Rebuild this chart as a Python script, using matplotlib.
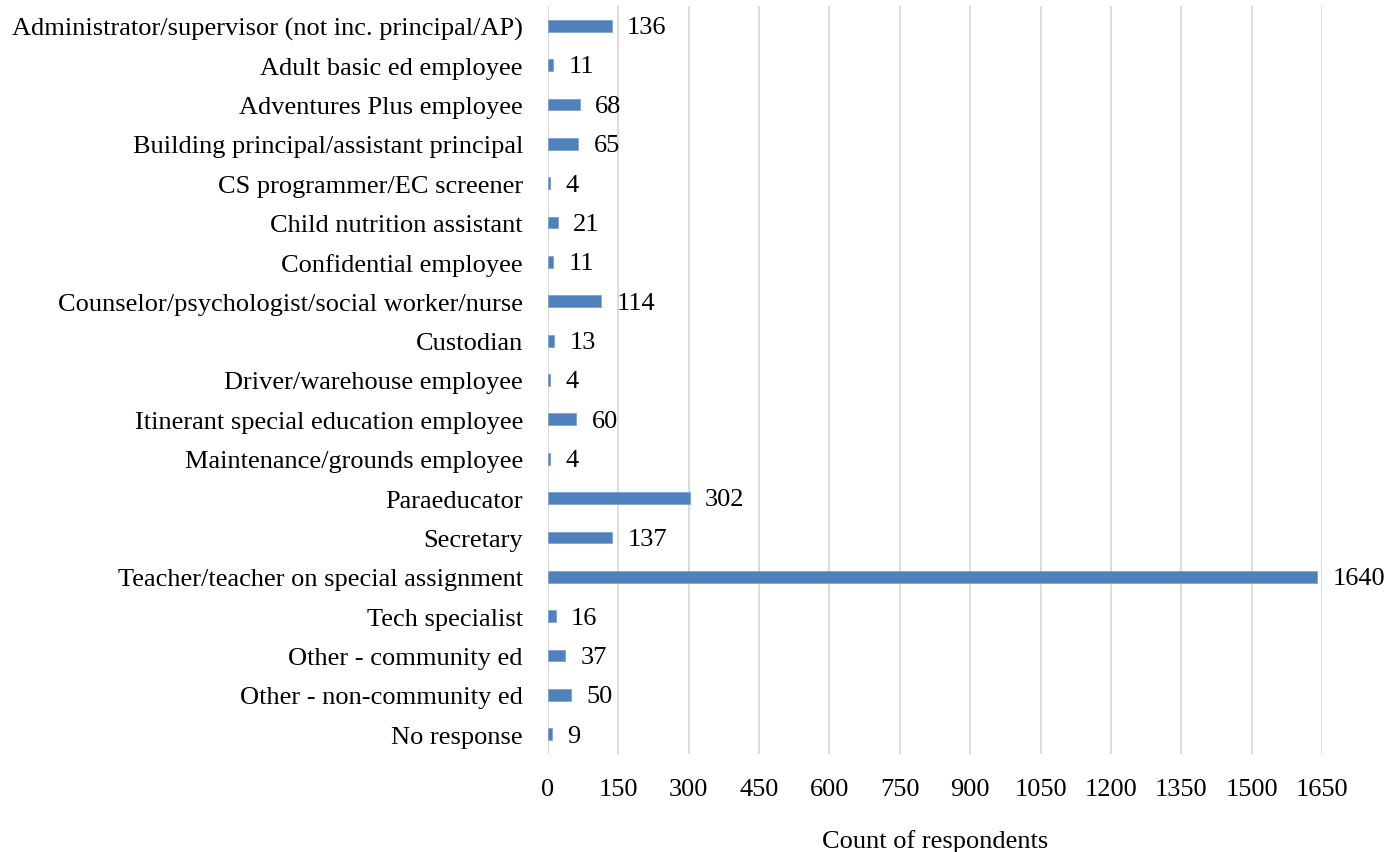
import matplotlib
matplotlib.use("Agg")
import matplotlib.pyplot as plt

# Respondents by job category
categories = [
    "Administrator/supervisor (not inc. principal/AP)",
    "Adult basic ed employee",
    "Adventures Plus employee",
    "Building principal/assistant principal",
    "CS programmer/EC screener",
    "Child nutrition assistant",
    "Confidential employee",
    "Counselor/psychologist/social worker/nurse",
    "Custodian",
    "Driver/warehouse employee",
    "Itinerant special education employee",
    "Maintenance/grounds employee",
    "Paraeducator",
    "Secretary",
    "Teacher/teacher on special assignment",
    "Tech specialist",
    "Other - community ed",
    "Other - non-community ed",
    "No response",
]
counts = [136, 11, 68, 65, 4, 21, 11, 114, 13, 4, 60, 4, 302, 137, 1640, 16, 37, 50, 9]
xticks = list(range(0, 1651, 150))

plt.rcParams["font.family"] = ["Liberation Serif", "DejaVu Serif"]
FS = 19

fig = plt.figure(figsize=(13.9, 8.53), dpi=100)
ax = fig.add_axes([548 / 1390, 1 - 755 / 853, (1322 - 548) / 1390, 748 / 853])

ypos = list(range(len(categories)))
ax.barh(ypos, counts, height=0.3, color="#4f81bd", edgecolor="#7fa3d1", linewidth=0.6, zorder=3)
for y, v in zip(ypos, counts):
    ax.annotate(str(v), (v, y), xytext=(11, -1), textcoords="offset points",
                va="center", ha="left", fontsize=FS, color="black")

ax.set_yticks(ypos)
ax.set_yticklabels(categories, fontsize=FS)
ax.set_ylim(len(categories) - 0.5, -0.5)
ax.set_xlim(0, 1650)
ax.set_xticks(xticks)
ax.tick_params(axis="x", labelsize=FS, length=0, pad=17.5)
ax.tick_params(axis="y", length=0, pad=18)
ax.grid(axis="x", color="#d9d9d9", linewidth=1.3, zorder=0)
for s in ax.spines.values():
    s.set_visible(False)
ax.set_xlabel("Count of respondents", fontsize=FS, labelpad=21)

fig.savefig("out.png", dpi=100)
